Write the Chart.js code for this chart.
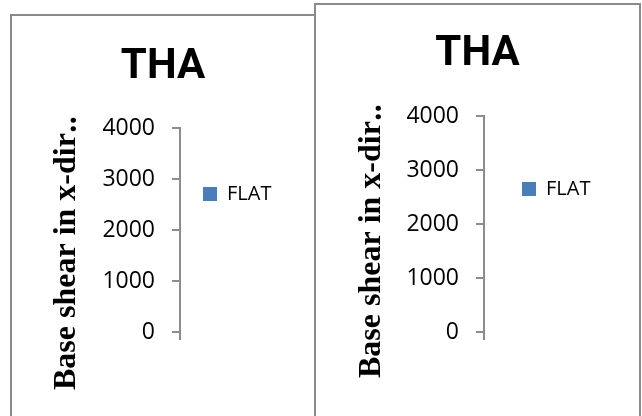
<!DOCTYPE html>
<html>
<head>
<meta charset="utf-8">
<script src="https://cdn.jsdelivr.net/npm/chart.js@4/dist/chart.umd.min.js"></script>
<style>
  html, body { margin: 0; padding: 0; background: #fff; width: 642px; height: 416px; overflow: hidden; position: relative; }
  .frame { position: absolute; border: 2px solid #8a8a8a; border-bottom: none; box-sizing: border-box; height: 440px; }
  #frameA { left: 10px; top: 14px; width: 306px; }
  #frameB { left: 314px; top: 3px; width: 327px; }
  canvas { position: absolute; }
  #chartA { left: 12px; top: 16px; }
  #chartB { left: 316px; top: 5px; }
</style>
</head>
<body>
<div class="frame" id="frameA"></div>
<div class="frame" id="frameB"></div>
<canvas id="chartA" width="302" height="400"></canvas>
<canvas id="chartB" width="323" height="411"></canvas>
<script>
// Chart content
const chartTitle = 'THA';
const seriesName = 'FLAT';
const categories = [''];
const flatValues = [null];
const yTickValues = [0, 1000, 2000, 3000, 4000];
const yAxisCaption = 'Base shear in x-dir\u2025';

const AXIS_GREY = '#8c8c8c';
const SERIES_BLUE = '#4a7ebb';
const LABEL_FONT = '"Open Sans"';

Chart.defaults.font.family = LABEL_FONT;
Chart.defaults.color = '#000';

// Moves the legend box to a fixed spot beside the plot.
const legendSpot = {
  id: 'legendSpot',
  afterLayout(chart, args, opts) {
    const lg = chart.legend;
    if (!lg) return;
    const w = lg.width, h = lg.height;
    lg.left = opts.x; lg.top = opts.y;
    lg.right = opts.x + w; lg.bottom = opts.y + h;
  }
};

// Rotated value-axis caption, written bottom to top.
const axisCaption = {
  id: 'axisCaption',
  afterDraw(chart, args, opts) {
    const ctx = chart.ctx;
    ctx.save();
    ctx.translate(opts.x, opts.y);
    ctx.rotate(-Math.PI / 2);
    ctx.font = 'bold ' + opts.size + 'px "Liberation Serif", "Times New Roman", serif';
    ctx.fillStyle = '#000';
    ctx.textAlign = 'left';
    ctx.textBaseline = 'alphabetic';
    ctx.fillText(opts.text, 0, 0);
    ctx.restore();
  }
};

function buildChart(id, p) {
  return new Chart(document.getElementById(id), {
    type: 'bar',
    data: {
      labels: categories,
      datasets: [{
        label: seriesName,
        data: flatValues,
        backgroundColor: SERIES_BLUE,
        borderWidth: 0
      }]
    },
    options: {
      responsive: false,
      animation: false,
      devicePixelRatio: 1,
      layout: { padding: { left: 0, top: 0, right: 0, bottom: p.bottomPad } },
      plugins: {
        title: {
          display: true,
          text: chartTitle,
          color: '#000',
          font: { family: 'Roboto', weight: 'bold', size: 42, lineHeight: 1 },
          padding: { top: p.titleTop, bottom: p.titleBottom }
        },
        legend: {
          position: 'right',
          align: 'start',
          labels: {
            font: { family: LABEL_FONT, size: 20 },
            color: '#000',
            boxWidth: 14,
            boxHeight: 14,
            padding: 0
          }
        },
        tooltip: { enabled: false },
        legendSpot: { x: p.legendX, y: p.legendY },
        axisCaption: { x: p.captionX, y: p.captionY, size: 32, text: yAxisCaption }
      },
      scales: {
        x: {
          type: 'category',
          offset: true,
          ticks: { display: false },
          border: { display: false },
          grid: {
            offset: true,
            drawOnChartArea: false,
            drawTicks: true,
            tickLength: 8,
            lineWidth: 2,
            color: c => (c.index === 0 ? AXIS_GREY : 'rgba(0,0,0,0)')
          }
        },
        y: {
          min: yTickValues[0],
          max: yTickValues[yTickValues.length - 1],
          afterBuildTicks: s => { s.ticks = yTickValues.map(v => ({ value: v })); },
          afterFit: s => { s.width = p.axisX; },
          ticks: {
            font: { family: LABEL_FONT, size: 23 },
            color: '#000',
            padding: 17,
            callback: v => String(v)
          },
          border: { display: true, color: AXIS_GREY, width: 2 },
          grid: {
            drawOnChartArea: false,
            drawTicks: true,
            tickLength: 8,
            lineWidth: 2,
            color: AXIS_GREY
          }
        }
      }
    },
    plugins: [legendSpot, axisCaption]
  });
}

buildChart('chartA', {
  bottomPad: 76, titleTop: 30, titleBottom: 40, axisX: 168,
  legendX: 191, legendY: 168, captionX: 63, captionY: 374
});
buildChart('chartB', {
  bottomPad: 76, titleTop: 28, titleBottom: 41, axisX: 168,
  legendX: 206, legendY: 174, captionX: 64, captionY: 373
});
</script>
</body>
</html>
